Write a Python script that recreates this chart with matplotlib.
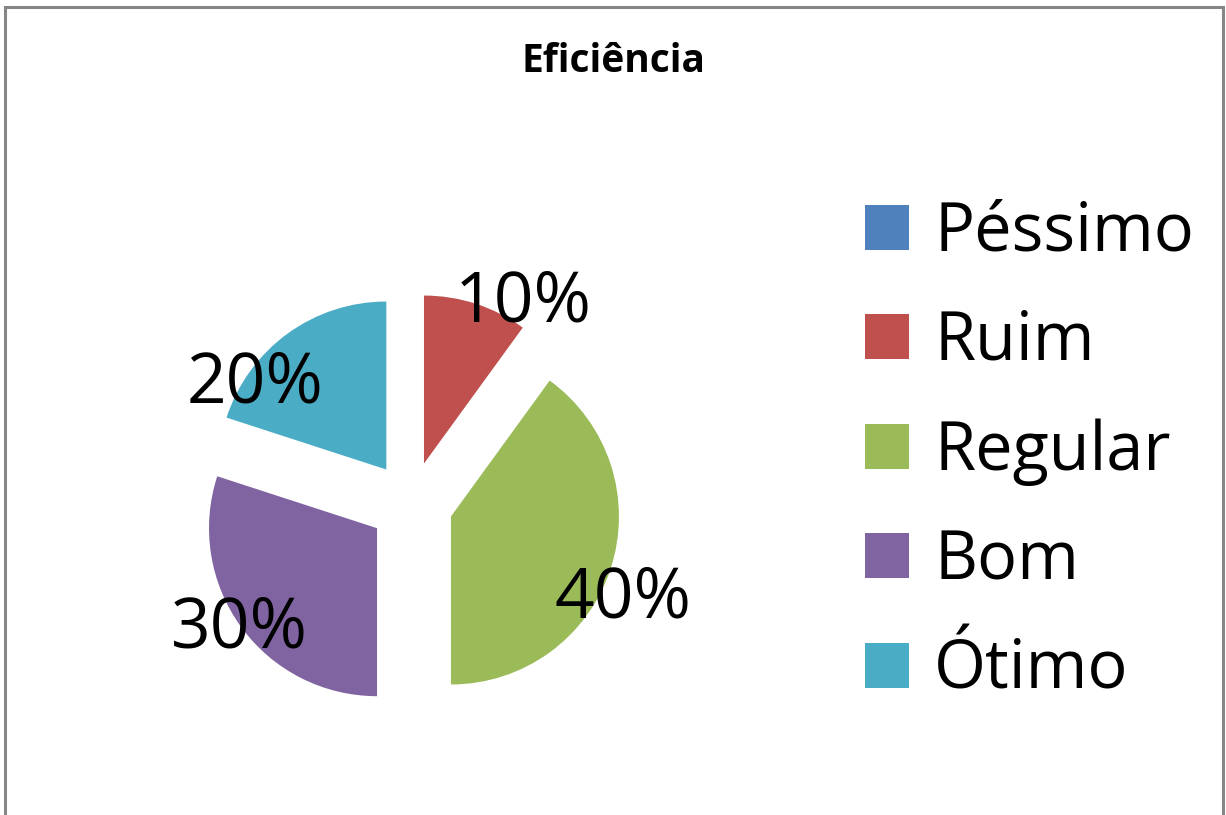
import matplotlib
matplotlib.use('Agg')
import matplotlib.pyplot as plt
from matplotlib.patches import Rectangle

# ---------------------------------------------------------------------------
# Data
# ---------------------------------------------------------------------------
categories = ['Péssimo', 'Ruim', 'Regular', 'Bom', 'Ótimo']
shares = [0, 10, 40, 30, 20]
colors = ['#4F81BD', '#C0504D', '#9BBB59', '#8064A2', '#4BACC6']
title = 'Eficiência'

# layout (pixels / radius units)
W, H = 1226, 815
CX, CY, R = 411, 815 - 503.5, 168          # pie centre and radius in px
EXPLODE = 0.25
# label centres relative to pie centre, in radius units (Excel "best fit")
LABEL_POS = [None, (0.67, 1.19), (1.26, -0.57), (-1.02, -0.75), (-0.93, 0.71)]

plt.rcParams['font.family'] = ['Open Sans', 'DejaVu Sans']

fig = plt.figure(figsize=(W / 100, H / 100), dpi=100)
ax = fig.add_axes([0, 0, 1, 1])


def pct_label(p):
    return f'{p:.0f}%' if p > 0.5 else ''


wedges, texts, autotexts = ax.pie(
    shares,
    colors=colors,
    startangle=90,
    counterclock=False,
    explode=[EXPLODE] * len(shares),
    autopct=pct_label,
    wedgeprops=dict(linewidth=0),
    textprops=dict(fontsize=50, color='black'),
)

for t, pos in zip(autotexts, LABEL_POS):
    if pos is not None:
        t.set_position(pos)
        t.set_ha('center')
        t.set_va('center')

ax.set_xlim(-CX / R, (W - CX) / R)
ax.set_ylim(-CY / R, (H - CY) / R)
ax.set_aspect('auto')
ax.axis('off')

fig.text(0.5, 1 - 62 / H, title, ha='center', va='center',
         fontsize=28, fontweight='bold')

leg = fig.legend(
    wedges, categories,
    loc='upper left',
    bbox_to_anchor=(865 / W, 1 - 199 / H),
    frameon=False,
    fontsize=48,
    handlelength=0.66,
    handleheight=0.66,
    handletextpad=0.38,
    labelspacing=0.63,
    borderpad=0,
    borderaxespad=0,
)

# chart area border (bottom edge lies outside the image)
fig.patches.append(Rectangle((5.5 / W, -0.05), (1223 - 5.5) / W, 1.05 - 7 / H,
                             transform=fig.transFigure, fill=False,
                             edgecolor='#868686', linewidth=2.2))

fig.savefig('out.png', dpi=100)
